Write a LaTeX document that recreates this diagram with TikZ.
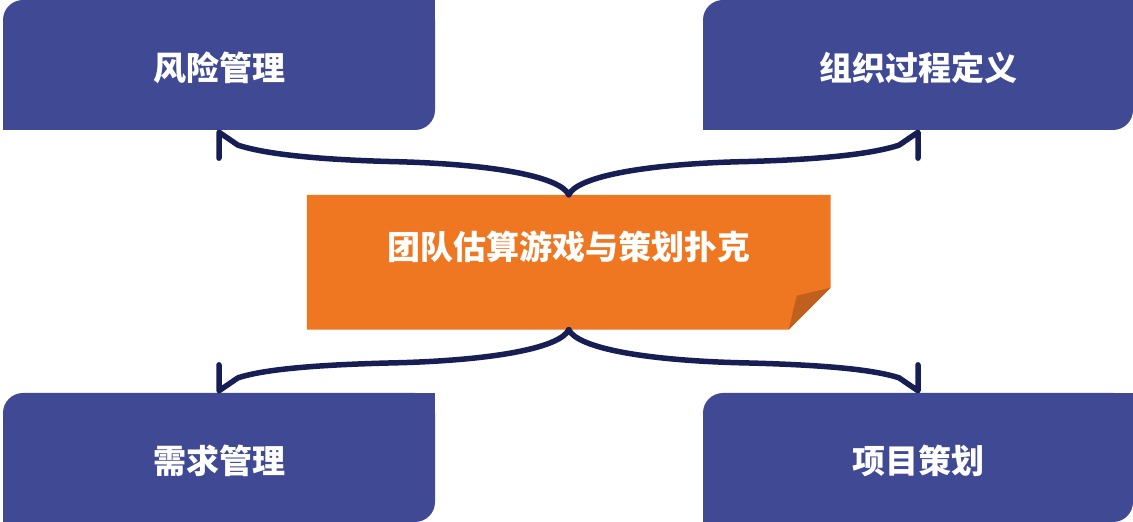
\documentclass[tikz,border=0pt]{standalone}
\usepackage{fontspec}
\newfontfamily\cjk{Noto Sans CJK SC}
\usetikzlibrary{backgrounds}
\definecolor{boxblue}{RGB}{63,73,148}
\definecolor{noteorange}{RGB}{239,119,34}
\definecolor{foldorange}{RGB}{192,96,31}
\definecolor{linknavy}{RGB}{22,30,84}
\begin{document}
\begin{tikzpicture}[x=1pt,y=1pt,
	area/.style={rectangle,fill=boxblue,rounded corners=20pt,minimum width=432pt,minimum height=130pt,inner sep=0pt,text height=34pt,text depth=2pt,text=white,font=\cjk\bfseries\fontsize{33}{40}\selectfont},
	note/.style={rectangle,minimum width=523.5pt,minimum height=134.5pt,inner sep=0pt,text depth=34pt,text=white,font=\cjk\bfseries\fontsize{33}{40}\selectfont},
	link/.style={draw=linknavy,line width=5.5pt,line join=round,line cap=round}]
	\useasboundingbox (0,0) rectangle (1133,522);
	\node[area] (risk) at (219,457) {风险管理};
	\node[area,minimum width=430pt] (org) at (918,457) {组织过程定义};
	\node[area,minimum height=129pt] (req) at (219,64.5) {需求管理};
	\node[area,minimum width=430pt,minimum height=129pt] (plan) at (918,64.5) {项目策划};
	\fill[boxblue] (risk.north east) rectangle +(-20,-20);
	\fill[boxblue] (risk.south west) rectangle +(20,20);
	\fill[boxblue] (org.north east) rectangle +(-20,-20);
	\fill[boxblue] (org.south west) rectangle +(20,20);
	\fill[boxblue] (req.north east) rectangle +(-20,-20);
	\fill[boxblue] (req.south west) rectangle +(20,20);
	\fill[boxblue] (plan.north east) rectangle +(-20,-20);
	\fill[boxblue] (plan.south west) rectangle +(20,20);
	\node[note] (game) at (568.75,259.75) {团队估算游戏与策划扑克};
	\begin{scope}[on background layer]
		\fill[noteorange] (game.north west) -- (game.north east) -- ([yshift=42pt]game.south east) -- ([xshift=-42pt]game.south east) -- (game.south west) -- cycle;
		\fill[foldorange] ([yshift=42pt]game.south east) -- ([shift={(-34,34)}]game.south east) -- ([xshift=-42pt]game.south east) -- cycle;
	\end{scope}
	\path[link] (game.north) .. controls +(-8,17) and +(100,-3) .. ++(-168,33) .. controls +(-90,2) and +(25,-8) .. ([shift={(19,-15)}]risk.south) -- ([yshift=-2pt]risk.south) -- ++(0,-26);
	\path[link] (game.north) .. controls +(8,17) and +(-100,-3) .. ++(168,33) .. controls +(90,2) and +(-25,-8) .. ([shift={(-19,-15)}]org.south) -- ([yshift=-2pt]org.south) -- ++(0,-26);
	\path[link] (game.south) .. controls +(-8,-17) and +(100,3) .. ++(-168,-33) .. controls +(-90,-2) and +(25,8) .. ([shift={(19,15)}]req.north) -- ([yshift=2pt]req.north) -- ++(0,26);
	\path[link] (game.south) .. controls +(8,-17) and +(-100,3) .. ++(168,-33) .. controls +(90,-2) and +(-25,8) .. ([shift={(-19,15)}]plan.north) -- ([yshift=2pt]plan.north) -- ++(0,26);
\end{tikzpicture}
\end{document}
